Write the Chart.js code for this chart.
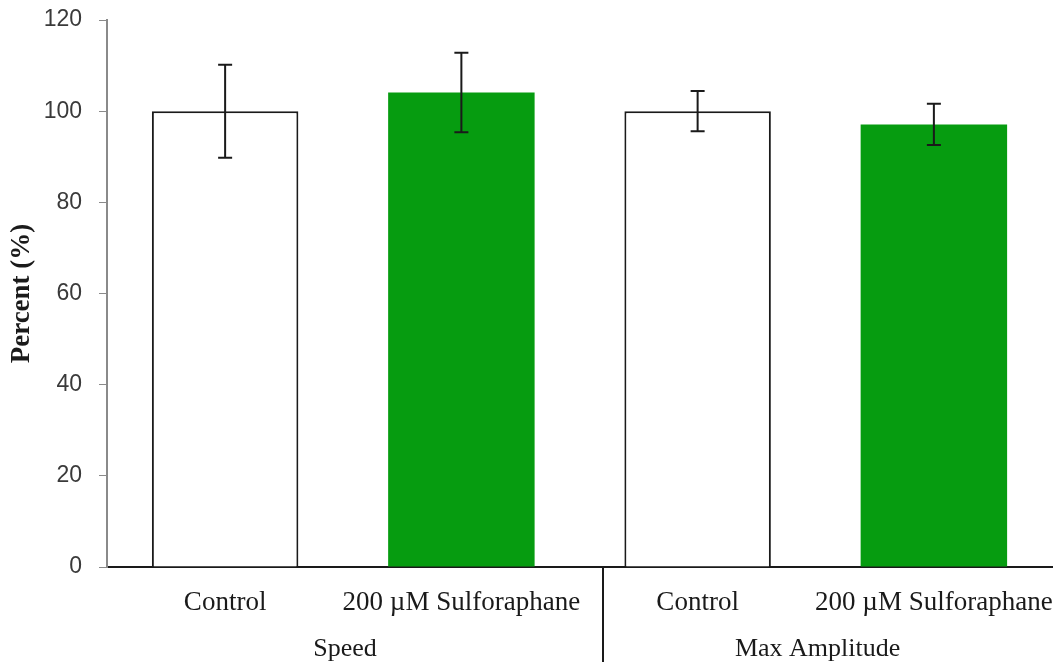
<!DOCTYPE html>
<html>
<head>
<meta charset="utf-8">
<script src="https://cdn.jsdelivr.net/npm/chart.js@4.4.1/dist/chart.umd.min.js"></script>
<style>
  html, body { margin: 0; padding: 0; background: #fff; }
  #wrap { width: 1058px; height: 662px; }
</style>
</head>
<body>
<div id="wrap"><canvas id="c" width="1058" height="662"></canvas></div>
<script>
// Bars in display order; each pair of bars belongs to one group.
const categories = ['Control', '200 µM Sulforaphane', 'Control', '200 µM Sulforaphane'];
const groups = ['Speed', 'Max Amplitude'];
const percentValues = [100, 104.1, 100, 97.1];
const errorValues = [10.2, 8.7, 4.4, 4.5];
const yTicks = [0, 20, 40, 60, 80, 100, 120];

const SERIF = '"Liberation Serif", "Times New Roman", serif';
const SANS = '"Liberation Sans", Arial, sans-serif';
const GREEN = '#069c10';

// Error bars (mean ± SD) drawn on top of the bars.
const errorBarPlugin = {
  id: 'errorBars',
  afterDatasetsDraw(chart) {
    const ctx = chart.ctx;
    const meta = chart.getDatasetMeta(0);
    const y = chart.scales.y;
    ctx.save();
    ctx.strokeStyle = '#1a1a1a';
    ctx.lineWidth = 2;
    meta.data.forEach((bar, i) => {
      const v = percentValues[i], e = errorValues[i];
      const x = bar.x;
      const yTop = y.getPixelForValue(v + e);
      const yBot = y.getPixelForValue(v - e);
      ctx.beginPath();
      ctx.moveTo(x, yTop); ctx.lineTo(x, yBot);
      ctx.moveTo(x - 7, yTop); ctx.lineTo(x + 7, yTop);
      ctx.moveTo(x - 7, yBot); ctx.lineTo(x + 7, yBot);
      ctx.stroke();
    });
    ctx.restore();
  }
};

// Second level of the category axis: group names and the divider between groups.
const groupAxisPlugin = {
  id: 'groupAxis',
  afterDraw(chart) {
    const ctx = chart.ctx;
    const x = chart.scales.x;
    const area = chart.chartArea;
    const per = categories.length / groups.length;
    const step = x.getPixelForTick(1) - x.getPixelForTick(0);
    // the divider sits a little right of the midpoint between the two groups
    const boundary = i => (x.getPixelForTick(i - 1) + x.getPixelForTick(i)) / 2 + step * 0.1;
    ctx.save();
    ctx.fillStyle = '#1a1a1a';
    ctx.font = '26px ' + SERIF;
    ctx.textAlign = 'center';
    ctx.textBaseline = 'middle';
    groups.forEach((g, gi) => {
      const first = gi * per, last = first + per - 1;
      const left = first === 0 ? area.left : boundary(first);
      const right = last === categories.length - 1 ? area.right : boundary(last + 1);
      ctx.fillText(g, (left + right) / 2 - 10, area.bottom + 82);
      if (gi > 0) {
        ctx.strokeStyle = '#1a1a1a';
        ctx.lineWidth = 2;
        ctx.beginPath();
        ctx.moveTo(Math.round(left), area.bottom);
        ctx.lineTo(Math.round(left), chart.height);
        ctx.stroke();
      }
    });
    ctx.restore();
  }
};

new Chart(document.getElementById('c'), {
  type: 'bar',
  data: {
    labels: categories,
    datasets: [{
      data: percentValues,
      backgroundColor: ['#ffffff', GREEN, '#ffffff', GREEN],
      borderColor: ['#1a1a1a', GREEN, '#1a1a1a', GREEN],
      borderWidth: [2, 0, 2, 0],
      borderSkipped: 'bottom',
      barPercentage: 0.62,
      categoryPercentage: 1.0
    }]
  },
  options: {
    responsive: false,
    animation: false,
    devicePixelRatio: 1,
    layout: { padding: { top: 20, right: 6, left: 0, bottom: 0 } },
    plugins: { legend: { display: false }, tooltip: { enabled: false } },
    scales: {
      x: {
        grid: { display: false, drawTicks: false },
        border: { color: '#1a1a1a', width: 2 },
        ticks: {
          color: '#1a1a1a',
          font: { family: SERIF, size: 27 },
          padding: 20,
          maxRotation: 0,
          autoSkip: false
        },
        afterFit(scale) {
          scale.height = 95;
          scale.paddingLeft = 0;
          scale.paddingRight = 0;
        }
      },
      y: {
        min: 0,
        max: 120,
        afterBuildTicks(scale) { scale.ticks = yTicks.map(v => ({ value: v })); },
        grid: { drawOnChartArea: false, drawTicks: true, tickLength: 8, color: '#8a8a8a' },
        border: { color: '#8a8a8a', width: 2 },
        ticks: {
          color: '#3a3a3a',
          font: { family: SANS, size: 23 },
          padding: 17
        },
        title: {
          display: true,
          text: 'Percent (%)',
          color: '#1a1a1a',
          font: { family: SERIF, size: 27, weight: 'bold' },
          padding: { top: 6, bottom: 0 }
        },
        afterFit(scale) {
          scale.width = 107;
          scale.paddingTop = 0;
          scale.paddingBottom = 0;
        }
      }
    }
  },
  plugins: [errorBarPlugin, groupAxisPlugin]
});
</script>
</body>
</html>
